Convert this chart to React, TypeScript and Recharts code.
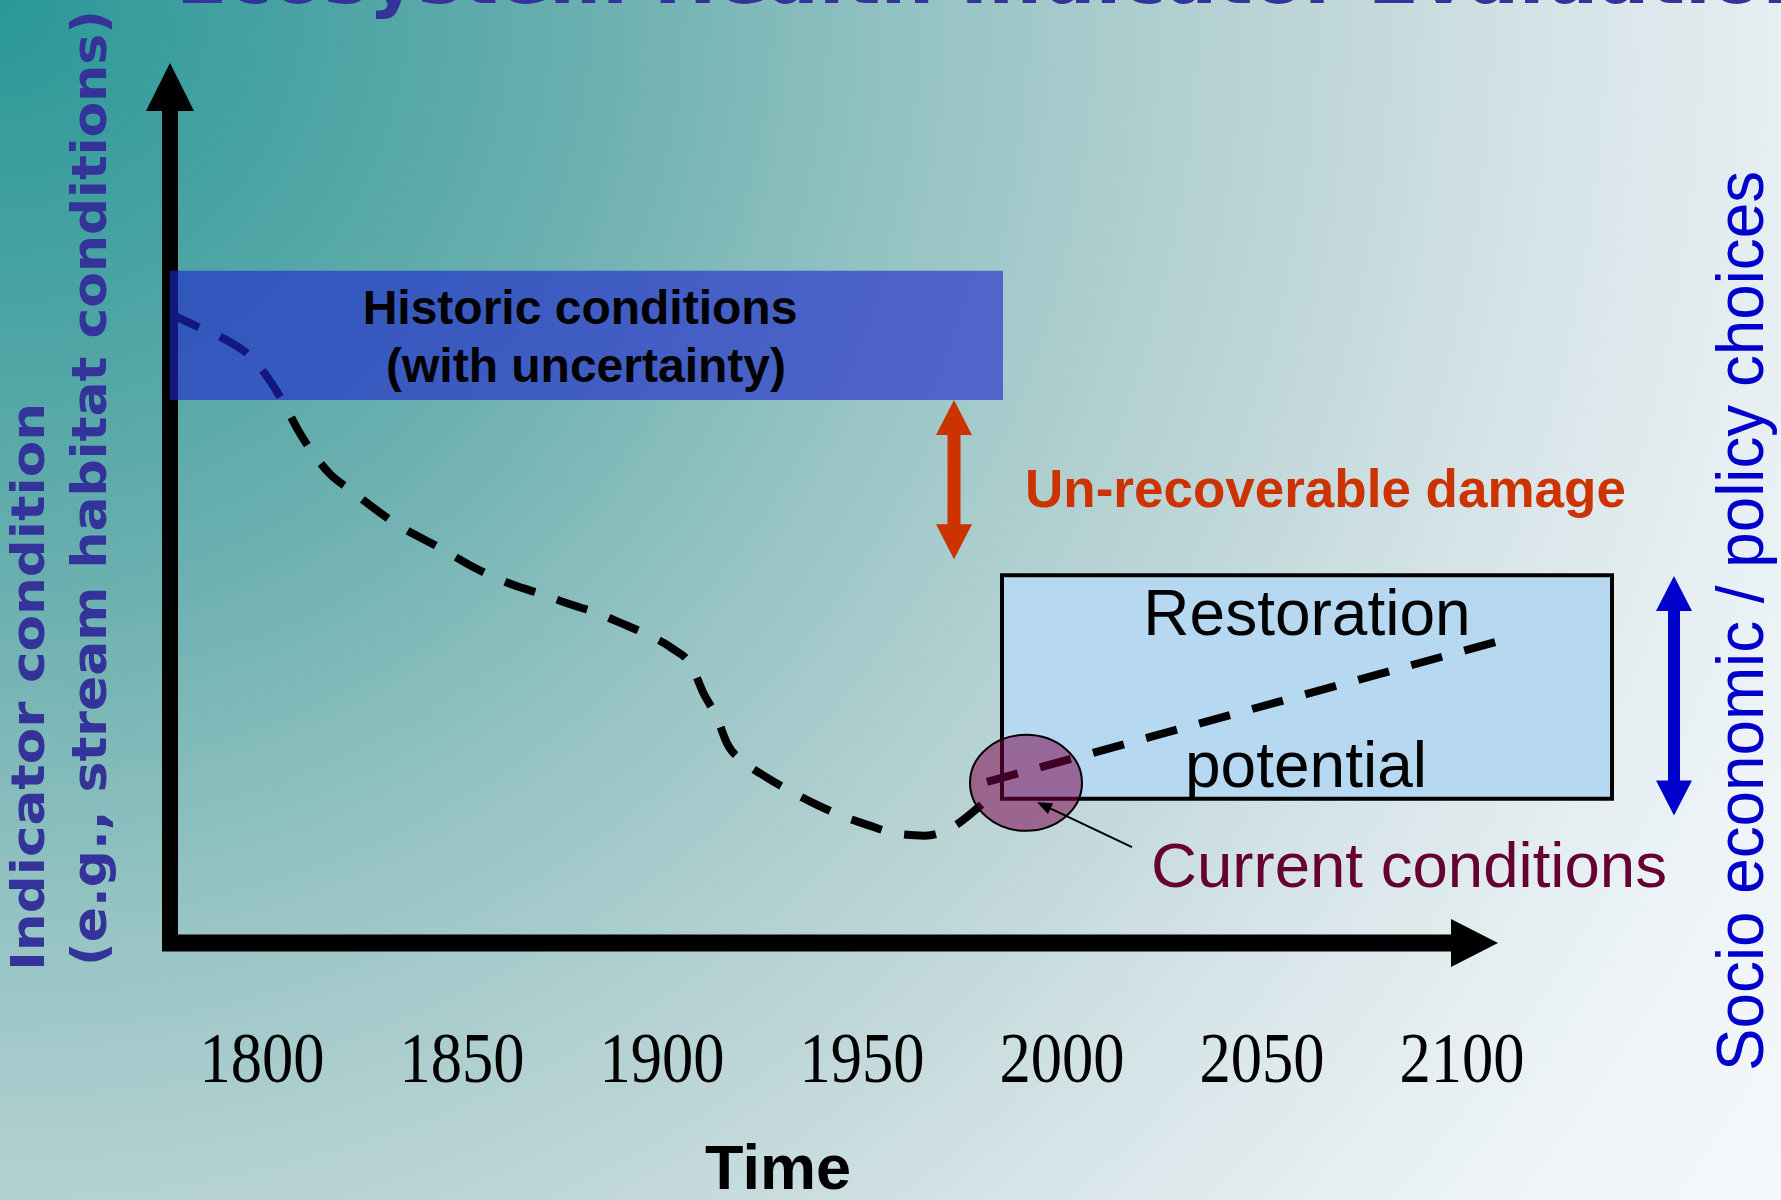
import React from 'react';
import { LineChart, Line, XAxis, YAxis, ReferenceArea, ReferenceLine, ReferenceDot } from 'recharts';

// ---------- data ----------
const yearTicks = [1800, 1850, 1900, 1950, 2000, 2050, 2100];

// historic decline of the indicator (conceptual years / condition score 0-100)
const declineYears = [
  1777, 1784.5, 1790.75, 1797, 1801.5, 1805.25, 1809, 1812.5, 1817, 1822, 1834, 1844.5,
  1853.75, 1862.75, 1870.25, 1876.25, 1883.75, 1889.5, 1896.5, 1902.5, 1907.5, 1910.25,
  1913.75, 1916.25, 1920.75, 1926.25, 1932.75, 1938.75, 1945.75, 1951.5, 1959, 1965.75,
  1972.75, 1977.75, 1983.75,
];
const declineValues = [
  71.5, 69.9, 68.6, 66.7, 64.2, 61.5, 58.3, 55.8, 53.3, 51.5, 47.5, 44.9,
  42.5, 40.7, 39.6, 38.6, 37.5, 36.4, 35.0, 33.5, 31.4, 28.5,
  25.6, 22.7, 20.5, 18.8, 17.1, 15.7, 14.3, 13.4, 12.4, 12.2,
  13.2, 14.9, 17.4,
];
// projected restoration trajectory
const restorationYears = [1981.25, 2110];
const restorationValues = [18.3, 34.4];

// boxes [x1, x2, y1, y2]
const historicBox = [1777, 1985.25, 61.7, 76.4];
const restorationBox = [1985, 2137.5, 16.4, 41.8];

// arrows [x1, y1, x2, y2]
const xAxisArrow = [1777, 0, 2109, 0];
const yAxisArrow = [1777, 0, 1777, 100];
const damageArrow = [1973, 43.6, 1973, 61.7];
const choicesArrow = [2153, 14.5, 2153, 41.7];
const leaderArrow = [2017.5, 10.9, 1993.75, 16.0];

// current conditions marker [year, value]
const currentPoint = [1991, 18.2];

const X_DOMAIN = [1777, 2177];
const Y_DOMAIN = [0, 100];

const declineData = declineYears.map((year, i) => ({ year, value: declineValues[i] }));
const restorationData = restorationYears.map((year, i) => ({ year, value: restorationValues[i] }));

// ---------- helpers ----------
type ArrowOpts = {
  color: string;
  shaft: number;
  head: number;
  half: number;
  start?: boolean;
  end?: boolean;
  cap?: number;
};

const makeArrow = (o: ArrowOpts) => (p: any) => {
  const { x1, y1, x2, y2 } = p;
  const dx = x2 - x1;
  const dy = y2 - y1;
  const len = Math.hypot(dx, dy) || 1;
  const ux = dx / len;
  const uy = dy / len;
  const nx = -uy;
  const ny = ux;
  const cap = o.cap || 0;
  const sx = o.start ? x1 + ux * (o.head - 1) : x1 - ux * cap;
  const sy = o.start ? y1 + uy * (o.head - 1) : y1 - uy * cap;
  const ex = o.end ? x2 - ux * (o.head - 1) : x2 + ux * cap;
  const ey = o.end ? y2 - uy * (o.head - 1) : y2 + uy * cap;
  const tri = (tx: number, ty: number, dir: number) => {
    const bx = tx - dir * ux * o.head;
    const by = ty - dir * uy * o.head;
    return `${tx},${ty} ${bx + nx * o.half},${by + ny * o.half} ${bx - nx * o.half},${by - ny * o.half}`;
  };
  return (
    <g>
      <line x1={sx} y1={sy} x2={ex} y2={ey} stroke={o.color} strokeWidth={o.shaft} />
      {o.start && <polygon points={tri(x1, y1, -1)} fill={o.color} />}
      {o.end && <polygon points={tri(x2, y2, 1)} fill={o.color} />}
    </g>
  );
};

const textShape = (content: string, style: any, rotate = false) => (p: any) => (
  <text
    x={p.cx}
    y={p.cy}
    transform={rotate ? `rotate(-90 ${p.cx} ${p.cy})` : undefined}
    {...style}
  >
    {content}
  </text>
);

const ellipseShape = (p: any) => (
  <ellipse cx={p.cx} cy={p.cy} rx={56} ry={48} fill="#7a0048" fillOpacity={0.52} stroke="#000" strokeWidth={2} />
);

const YearTick = (props: any) => {
  const { x, y, payload } = props;
  return (
    <text
      x={x}
      y={y + 139}
      textAnchor="middle"
      fontFamily="'Liberation Serif', 'Times New Roman', serif"
      fontSize={72}
      textLength={125}
      lengthAdjust="spacingAndGlyphs"
      fill="#000"
    >
      {payload.value}
    </text>
  );
};

const ARIAL = "'Liberation Sans', Arial, sans-serif";
const DEJAVU = "'DejaVu Sans', Verdana, sans-serif";

// text annotations: label, year, value
const annotations: { text: string; x: number; y: number; style: any; rotate?: boolean }[] = [
  {
    text: 'Ecosystem Health Indicator Evaluation',
    x: 1778.5,
    y: 106.8,
    style: {
      fontFamily: DEJAVU, fontWeight: 'bold', fontSize: 74, fill: '#333399', textAnchor: 'start',
      textLength: 1640, lengthAdjust: 'spacingAndGlyphs',
    },
  },
  {
    text: 'Historic conditions',
    x: 1879.5,
    y: 70.3,
    style: { fontFamily: ARIAL, fontWeight: 'bold', fontSize: 48, fill: '#000', textAnchor: 'middle' },
  },
  {
    text: '(with uncertainty)',
    x: 1881,
    y: 63.75,
    style: { fontFamily: ARIAL, fontWeight: 'bold', fontSize: 48, fill: '#000', textAnchor: 'middle' },
  },
  {
    text: 'Un-recoverable damage',
    x: 1990.75,
    y: 49.55,
    style: { fontFamily: ARIAL, fontWeight: 'bold', fontSize: 53, fill: '#cc3300', textAnchor: 'start' },
  },
  {
    text: 'Restoration',
    x: 2061.25,
    y: 35.0,
    style: { fontFamily: ARIAL, fontSize: 64, fill: '#000', textAnchor: 'middle' },
  },
  {
    text: 'potential',
    x: 2061,
    y: 17.73,
    style: { fontFamily: ARIAL, fontSize: 64, fill: '#000', textAnchor: 'middle' },
  },
  {
    text: 'Current conditions',
    x: 2022.25,
    y: 6.36,
    style: {
      fontFamily: ARIAL, fontSize: 63, fill: '#660033', textAnchor: 'start',
      textLength: 516, lengthAdjust: 'spacingAndGlyphs',
    },
  },
  {
    text: 'Time',
    x: 1929,
    y: -28.0,
    style: { fontFamily: ARIAL, fontWeight: 'bold', fontSize: 63, fill: '#000', textAnchor: 'middle' },
  },
  {
    text: 'Indicator condition',
    x: 1745.5,
    y: 29.1,
    rotate: true,
    style: {
      fontFamily: DEJAVU, fontWeight: 'bold', fontSize: 47, fill: '#333399', textAnchor: 'middle',
      textLength: 568, lengthAdjust: 'spacingAndGlyphs',
    },
  },
  {
    text: '(e.g., stream habitat conditions)',
    x: 1761,
    y: 51.7,
    rotate: true,
    style: {
      fontFamily: DEJAVU, fontWeight: 'bold', fontSize: 48, fill: '#333399', textAnchor: 'middle',
      textLength: 956, lengthAdjust: 'spacingAndGlyphs',
    },
  },
  {
    text: 'Socio economic / policy choices',
    x: 2175.25,
    y: 36.6,
    rotate: true,
    style: {
      fontFamily: ARIAL, fontSize: 66, fill: '#0000cc', textAnchor: 'middle',
      textLength: 900, lengthAdjust: 'spacingAndGlyphs',
    },
  },
];

export default function App() {
  return (
    <div
      style={{
        position: 'absolute',
        left: 0,
        top: 0,
        width: 1781,
        height: 1200,
        overflow: 'hidden',
        background:
          'radial-gradient(circle at 0px 0px, #2a9898 0px, #4aa3a3 300px, #6cb0b0 600px, #93c2c2 900px, #b9d3d5 1250px, #d9e6e9 1600px, #edf3f6 1900px, #f6f9fc 2200px)',
      }}
    >
      <LineChart width={1781} height={1200} margin={{ top: 63, right: 11, bottom: 107, left: 170 }}>
        <XAxis
          dataKey="year"
          type="number"
          domain={X_DOMAIN}
          allowDataOverflow
          ticks={yearTicks}
          interval={0}
          axisLine={false}
          tickLine={false}
          tickSize={0}
          tickMargin={0}
          height={150}
          tick={<YearTick />}
        />
        <YAxis type="number" domain={Y_DOMAIN} allowDataOverflow hide />

        <ReferenceArea
          x1={restorationBox[0]}
          x2={restorationBox[1]}
          y1={restorationBox[2]}
          y2={restorationBox[3]}
          ifOverflow="visible"
          fill="#b7d8f1"
          fillOpacity={1}
          stroke="#000"
          strokeWidth={4}
          zIndex={10}
        />

        <ReferenceLine
          segment={[{ x: yAxisArrow[0], y: yAxisArrow[1] }, { x: yAxisArrow[2], y: yAxisArrow[3] }]}
          ifOverflow="visible"
          shape={makeArrow({ color: '#000', shaft: 16, head: 48, half: 24, end: true, cap: 8 })}
          zIndex={20}
        />
        <ReferenceLine
          segment={[{ x: xAxisArrow[0], y: xAxisArrow[1] }, { x: xAxisArrow[2], y: xAxisArrow[3] }]}
          ifOverflow="visible"
          shape={makeArrow({ color: '#000', shaft: 17, head: 47, half: 24, end: true, cap: 8 })}
          zIndex={20}
        />

        <Line
          data={declineData}
          dataKey="value"
          type="monotone"
          stroke="#000"
          strokeWidth={8}
          strokeDasharray="32 23"
          dot={false}
          activeDot={false}
          isAnimationActive={false}
          zIndex={30}
        />
        <Line
          data={restorationData}
          dataKey="value"
          type="linear"
          stroke="#000"
          strokeWidth={8}
          strokeDasharray="32 23"
          dot={false}
          activeDot={false}
          isAnimationActive={false}
          zIndex={30}
        />

        <ReferenceArea
          x1={historicBox[0]}
          x2={historicBox[1]}
          y1={historicBox[2]}
          y2={historicBox[3]}
          ifOverflow="visible"
          fill="#1f26cc"
          fillOpacity={0.62}
          stroke="none"
          zIndex={40}
        />

        <ReferenceLine
          segment={[{ x: damageArrow[0], y: damageArrow[1] }, { x: damageArrow[2], y: damageArrow[3] }]}
          ifOverflow="visible"
          shape={makeArrow({ color: '#cc3300', shaft: 13, head: 35, half: 18, start: true, end: true })}
          zIndex={50}
        />
        <ReferenceLine
          segment={[{ x: choicesArrow[0], y: choicesArrow[1] }, { x: choicesArrow[2], y: choicesArrow[3] }]}
          ifOverflow="visible"
          shape={makeArrow({ color: '#0000cc', shaft: 12, head: 35, half: 18, start: true, end: true })}
          zIndex={50}
        />

        <ReferenceDot x={currentPoint[0]} y={currentPoint[1]} ifOverflow="visible" shape={ellipseShape} zIndex={60} />

        <ReferenceLine
          segment={[{ x: leaderArrow[0], y: leaderArrow[1] }, { x: leaderArrow[2], y: leaderArrow[3] }]}
          ifOverflow="visible"
          shape={makeArrow({ color: '#000', shaft: 2, head: 15, half: 6, end: true })}
          zIndex={70}
        />

        {annotations.map((a, i) => (
          <ReferenceDot
            key={i}
            x={a.x}
            y={a.y}
            ifOverflow="visible"
            shape={textShape(a.text, a.style, a.rotate)}
            zIndex={80}
          />
        ))}
      </LineChart>
    </div>
  );
}
